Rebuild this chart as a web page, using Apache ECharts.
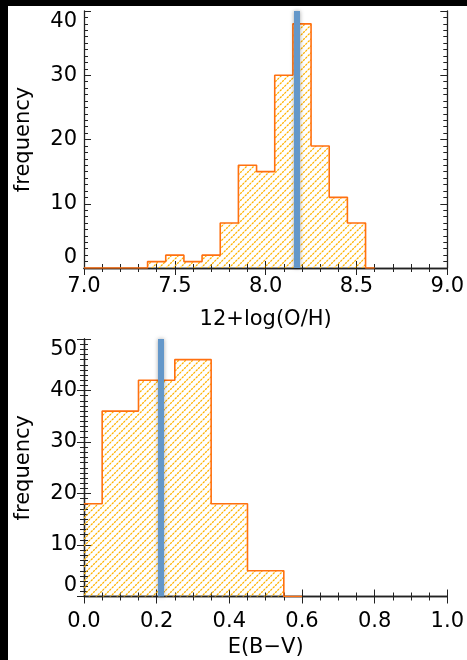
<!DOCTYPE html>
<html>
<head>
<meta charset="utf-8">
<script src="https://cdn.jsdelivr.net/npm/echarts@6/dist/echarts.min.js"></script>
<style>
  html, body { margin: 0; padding: 0; background: #fff; }
  #chart { width: 467px; height: 660px; }
</style>
</head>
<body>
<div id="chart"></div>
<script>
// Oxygen abundance histogram: bin centres and counts
const ohCenters = [7.0, 7.1, 7.2, 7.3, 7.4, 7.5, 7.6, 7.7, 7.8, 7.9, 8.0, 8.1, 8.2, 8.3, 8.4, 8.5, 8.6];
const ohCounts  = [0, 0, 0, 0, 1, 2, 1, 2, 7, 16, 15, 30, 38, 19, 11, 7, 0];
const ohMarker  = 8.17;

// Colour excess histogram: bin centres and counts
const ebvCenters = [0.0, 0.1, 0.2, 0.3, 0.4, 0.5, 0.6];
const ebvCounts  = [18, 36, 42, 46, 18, 5, 0];
const ebvMarker  = 0.21;

const FONT = 'DejaVu Sans';
const FS = 21;
const AXIS_COLOR = '#222';
const OUTLINE = '#ff7010';
const HATCH = '#ffb200';
const MARKER = '#6497c9';

// diagonal hatch tile used as the histogram fill
function hatchPattern() {
  const s = 7;
  const c = document.createElement('canvas');
  c.width = s; c.height = s;
  const g = c.getContext('2d');
  g.strokeStyle = HATCH;
  g.lineWidth = 1.25;
  g.setLineDash([2.2, 0.9]);
  for (const k of [-s, 0, s]) {
    g.beginPath();
    g.moveTo(k, s);
    g.lineTo(k + s, 0);
    g.stroke();
  }
  return { image: c, repeat: 'repeat' };
}
const fill = hatchPattern();

const toPairs = (xs, ys) => xs.map((x, i) => [x, ys[i]]);

function xAxes(gridIndex, min, max, interval, minorSplit, labelMargin, name, nameGap) {
  const common = {
    type: 'value', gridIndex, min, max, interval,
    axisLine: { show: true, lineStyle: { color: AXIS_COLOR, width: 1.3 } },
    axisTick: { show: true, inside: true, length: 7, lineStyle: { color: AXIS_COLOR, width: 1 } },
    minorTick: { show: true, splitNumber: minorSplit, length: 4, lineStyle: { color: AXIS_COLOR, width: 1 } },
    splitLine: { show: false }
  };
  return [
    Object.assign({}, common, {
      position: 'bottom',
      name, nameLocation: 'middle', nameGap,
      nameTextStyle: { fontFamily: FONT, fontSize: FS, color: '#000' },
      axisLabel: { show: true, margin: labelMargin, fontFamily: FONT, fontSize: FS, color: '#000',
                   formatter: v => v.toFixed(1), showMinLabel: true, showMaxLabel: true }
    }),
    Object.assign({}, common, { position: 'top', axisLabel: { show: false } })
  ];
}

function yAxes(gridIndex, max, interval) {
  const common = {
    type: 'value', gridIndex, min: 0, max, interval,
    axisLine: { show: true, lineStyle: { color: AXIS_COLOR, width: 1.3 } },
    axisTick: { show: true, inside: true, length: 7, lineStyle: { color: AXIS_COLOR, width: 1 } },
    minorTick: { show: true, splitNumber: 10, length: 4, lineStyle: { color: AXIS_COLOR, width: 1 } },
    splitLine: { show: false }
  };
  return [
    Object.assign({}, common, {
      position: 'left',
      name: 'frequency', nameLocation: 'middle', nameGap: 50, nameRotate: 90,
      nameTextStyle: { fontFamily: FONT, fontSize: FS, color: '#000' },
      axisLabel: { show: true, margin: 7, fontFamily: FONT, fontSize: FS, color: '#000',
                   showMinLabel: true, showMaxLabel: true,
                   verticalAlignMinLabel: 'bottom', verticalAlignMaxLabel: 'top' }
    }),
    Object.assign({}, common, { position: 'right', axisLabel: { show: false } })
  ];
}

function histSeries(xi, yi, centers, counts, marker) {
  return {
    type: 'line', xAxisIndex: xi, yAxisIndex: yi,
    data: toPairs(centers, counts),
    step: 'middle', symbol: 'none', clip: true,
    lineStyle: { color: OUTLINE, width: 1.6 },
    areaStyle: { color: fill, opacity: 1 },
    markLine: {
      silent: true, symbol: 'none', animation: false,
      label: { show: false },
      lineStyle: { color: MARKER, width: 6, type: 'solid',
                   shadowBlur: 4, shadowColor: 'rgba(0,0,0,0.35)' },
      data: [{ xAxis: marker }]
    }
  };
}

const chart = echarts.init(document.getElementById('chart'), null, { renderer: 'canvas' });
chart.setOption({
  animation: false,
  backgroundColor: '#fff',
  grid: [
    { left: 84, right: 17, top: 11, height: 257 },
    { left: 84, right: 17, top: 339, height: 257.5 }
  ],
  xAxis: [
    ...xAxes(0, 7, 9, 0.5, 5, 8, '12+log(O/H)', 41),
    ...xAxes(1, 0, 1, 0.2, 4, 15, 'E(B\u2212V)', 41)
  ],
  yAxis: [
    ...yAxes(0, 40, 10),
    ...yAxes(1, 50, 10)
  ],
  series: [
    histSeries(0, 0, ohCenters, ohCounts, ohMarker),
    histSeries(2, 2, ebvCenters, ebvCounts, ebvMarker)
  ],
  graphic: [
    { type: 'rect', left: 0, top: 0, shape: { width: 8, height: 660 }, style: { fill: '#000' }, z: 100 },
    { type: 'rect', left: 0, top: 0, shape: { width: 467, height: 6 }, style: { fill: '#000' }, z: 100 }
  ]
});
</script>
</body>
</html>
